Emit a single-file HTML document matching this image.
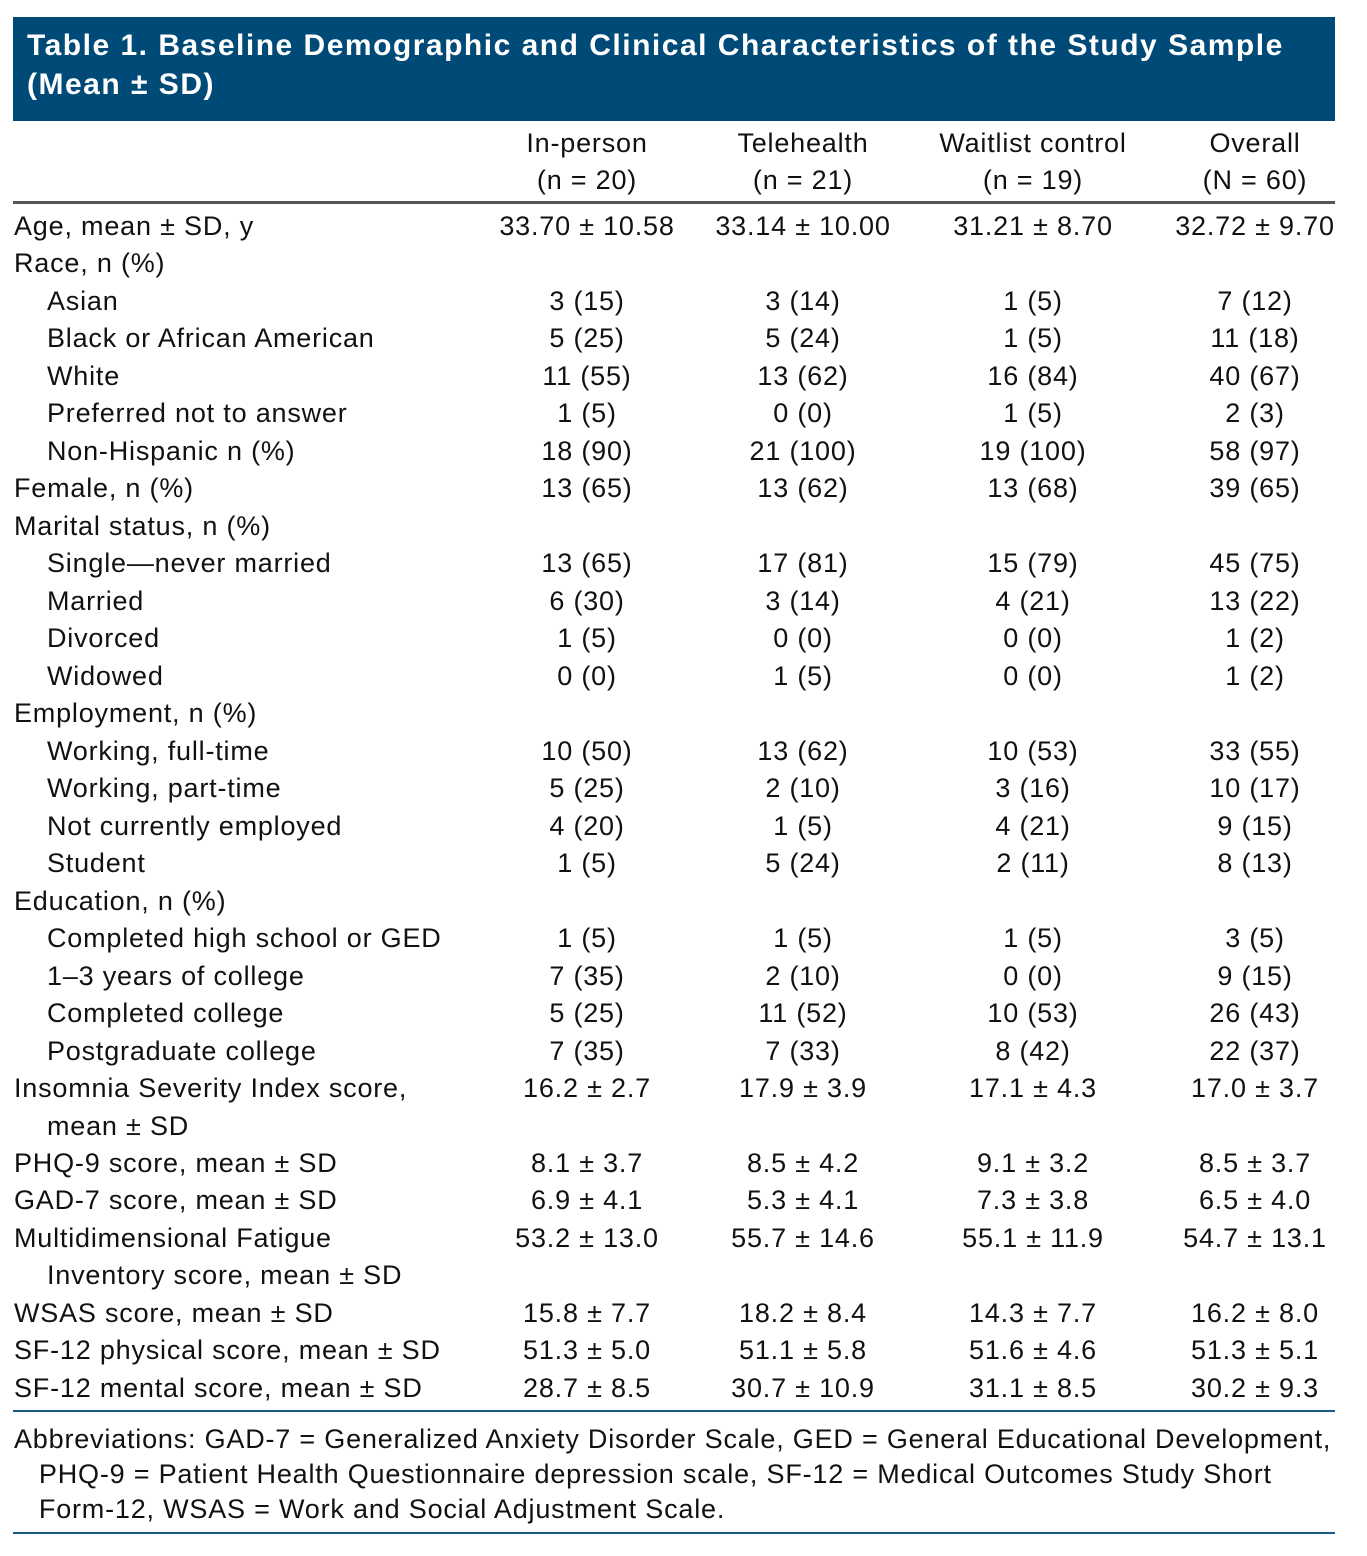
<!DOCTYPE html>
<html><head><meta charset="utf-8">
<style>
body{margin:0;width:1367px;height:1556px;background:#fff;position:relative;overflow:hidden;font-family:"Liberation Sans",sans-serif;color:#111;}
.t{position:absolute;font-size:27px;letter-spacing:0.8px;white-space:nowrap;line-height:30px;}
.c{transform:translateX(-50%);text-align:center;}
#title{position:absolute;left:13px;top:17px;width:1322px;height:104px;background:#004a78;color:#fff;font-weight:bold;font-size:30px;letter-spacing:1.5px;line-height:39px;box-sizing:border-box;padding:9px 0 0 14px;white-space:nowrap;}
.rule{position:absolute;left:13px;width:1322px;}
</style></head><body>
<div id="title">Table 1. Baseline Demographic and Clinical Characteristics of the Study Sample<br>(Mean ± SD)</div>
<div class="rule" style="top:201px;height:3px;background:#555;"></div>
<div class="rule" style="top:1410px;height:2px;background:#1d5a85;"></div>
<div class="rule" style="top:1532px;height:2px;background:#1d5a85;"></div>
<div class="t" style="left:14px;top:1422px;line-height:35px;">Abbreviations: GAD-7 = Generalized Anxiety Disorder Scale, GED = General Educational Development,<br>&nbsp;&nbsp;&nbsp;PHQ-9 = Patient Health Questionnaire depression scale, SF-12 = Medical Outcomes Study Short<br>&nbsp;&nbsp;&nbsp;Form-12, WSAS = Work and Social Adjustment Scale.</div>
<script>
const colCenters=[587,803,1033,1255];
const headers=[["In-person","(n = 20)"],["Telehealth","(n = 21)"],["Waitlist control","(n = 19)"],["Overall","(N = 60)"]];
const rows=[
["Age, mean ± SD, y",0,["33.70 ± 10.58","33.14 ± 10.00","31.21 ± 8.70","32.72 ± 9.70"]],
["Race, n (%)",0,null],
["Asian",1,["3 (15)","3 (14)","1 (5)","7 (12)"]],
["Black or African American",1,["5 (25)","5 (24)","1 (5)","11 (18)"]],
["White",1,["11 (55)","13 (62)","16 (84)","40 (67)"]],
["Preferred not to answer",1,["1 (5)","0 (0)","1 (5)","2 (3)"]],
["Non-Hispanic n (%)",1,["18 (90)","21 (100)","19 (100)","58 (97)"]],
["Female, n (%)",0,["13 (65)","13 (62)","13 (68)","39 (65)"]],
["Marital status, n (%)",0,null],
["Single—never married",1,["13 (65)","17 (81)","15 (79)","45 (75)"]],
["Married",1,["6 (30)","3 (14)","4 (21)","13 (22)"]],
["Divorced",1,["1 (5)","0 (0)","0 (0)","1 (2)"]],
["Widowed",1,["0 (0)","1 (5)","0 (0)","1 (2)"]],
["Employment, n (%)",0,null],
["Working, full-time",1,["10 (50)","13 (62)","10 (53)","33 (55)"]],
["Working, part-time",1,["5 (25)","2 (10)","3 (16)","10 (17)"]],
["Not currently employed",1,["4 (20)","1 (5)","4 (21)","9 (15)"]],
["Student",1,["1 (5)","5 (24)","2 (11)","8 (13)"]],
["Education, n (%)",0,null],
["Completed high school or GED",1,["1 (5)","1 (5)","1 (5)","3 (5)"]],
["1–3 years of college",1,["7 (35)","2 (10)","0 (0)","9 (15)"]],
["Completed college",1,["5 (25)","11 (52)","10 (53)","26 (43)"]],
["Postgraduate college",1,["7 (35)","7 (33)","8 (42)","22 (37)"]],
["Insomnia Severity Index score,",0,["16.2 ± 2.7","17.9 ± 3.9","17.1 ± 4.3","17.0 ± 3.7"]],
["mean ± SD",1,null],
["PHQ-9 score, mean ± SD",0,["8.1 ± 3.7","8.5 ± 4.2","9.1 ± 3.2","8.5 ± 3.7"]],
["GAD-7 score, mean ± SD",0,["6.9 ± 4.1","5.3 ± 4.1","7.3 ± 3.8","6.5 ± 4.0"]],
["Multidimensional Fatigue",0,["53.2 ± 13.0","55.7 ± 14.6","55.1 ± 11.9","54.7 ± 13.1"]],
["Inventory score, mean ± SD",1,null],
["WSAS score, mean ± SD",0,["15.8 ± 7.7","18.2 ± 8.4","14.3 ± 7.7","16.2 ± 8.0"]],
["SF-12 physical score, mean ± SD",0,["51.3 ± 5.0","51.1 ± 5.8","51.6 ± 4.6","51.3 ± 5.1"]],
["SF-12 mental score, mean ± SD",0,["28.7 ± 8.5","30.7 ± 10.9","31.1 ± 8.5","30.2 ± 9.3"]]
];
function add(txt,x,y,center,name){
  const d=document.createElement('div');
  d.className='t'+(center?' c':'');
  d.style.left=x+'px';d.style.top=(y-15)+'px';
  d.textContent=txt;
  
  
  document.body.appendChild(d);
}
headers.forEach((h,i)=>{add(h[0],colCenters[i],143,true,'column-header');add(h[1],colCenters[i],180,true,'column-header-n');});
rows.forEach((r,i)=>{
  const y=226+i*37.48;
  add(r[0],r[1]?47:14,y,false,'row-label');
  if(r[2]) r[2].forEach((v,j)=>add(v,colCenters[j],y,true,'cell-value'));
});
</script>
</body></html>
